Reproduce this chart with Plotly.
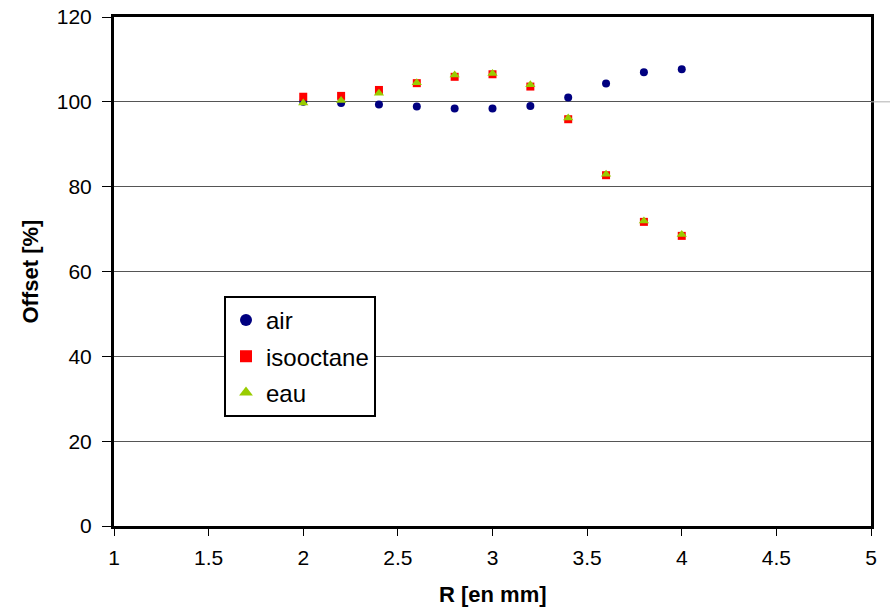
import plotly.graph_objects as go

r_mm = [2.0, 2.2, 2.4, 2.6, 2.8, 3.0, 3.2, 3.4, 3.6, 3.8, 4.0]
air = [100.0, 99.7, 99.4, 98.9, 98.4, 98.4, 99.0, 101.0, 104.3, 107.0, 107.7]
isooctane = [101.2, 101.4, 102.8, 104.4, 105.9, 106.5, 103.6, 95.9, 82.7, 71.7, 68.4]
eau = [99.7, 100.3, 102.0, 104.5, 106.3, 106.7, 104.0, 96.2, 82.9, 71.9, 68.7]

x_ticks = [1, 1.5, 2, 2.5, 3, 3.5, 4, 4.5, 5]
y_ticks = [0, 20, 40, 60, 80, 100, 120]
ref_level = 100
x_title = "R [en mm]"
y_title = "Offset [%]"

font_family = "Liberation Sans, Arial, sans-serif"

fig = go.Figure()
fig.add_trace(go.Scatter(x=r_mm, y=air, mode="markers", name="air", legendgroup="a",
                         marker=dict(symbol="circle", size=8, color="#000080")))
fig.add_trace(go.Scatter(x=r_mm, y=isooctane, mode="markers", name="isooctane", legendgroup="b",
                         marker=dict(symbol="square", size=8, color="#FF0000")))
fig.add_trace(go.Scatter(x=r_mm, y=eau, mode="markers", name="eau", legendgroup="c",
                         marker=dict(symbol="triangle-up", size=9, color="#99CC00")))

fig.add_shape(type="line", xref="paper", yref="y", x0=1, x1=1.03, y0=ref_level, y1=ref_level,
              line=dict(color="#b0b0b0", width=1))

fig.add_annotation(text=f"<b>{x_title}</b>", xref="paper", yref="paper", x=0.5, y=0,
                   yshift=-68, showarrow=False, font=dict(size=22), yanchor="middle")
fig.add_annotation(text=f"<b>{y_title}</b>", xref="paper", yref="paper", x=0, y=0.5,
                   xshift=-84, showarrow=False, font=dict(size=22), textangle=-90,
                   xanchor="center")

fig.update_layout(
    width=890, height=607,
    margin=dict(l=114, r=19, t=17, b=81),
    paper_bgcolor="white", plot_bgcolor="white",
    font=dict(family=font_family, size=21, color="black"),
    showlegend=True,
    legend=dict(x=0.1453, y=0.452, xanchor="left", yanchor="top",
                bgcolor="white", bordercolor="black", borderwidth=2,
                font=dict(size=24), itemsizing="constant",
                traceorder="grouped", tracegroupgap=2),
    xaxis=dict(range=[1, 5], tickvals=x_ticks, ticktext=[f"{v:g}" for v in x_ticks],
               showgrid=False, zeroline=False, automargin=False,
               showline=True, mirror=True, linecolor="black", linewidth=3,
               ticks="outside", ticklen=7, tickcolor="black", ticklabelstandoff=4,
               ticklabeloverflow="allow"),
    yaxis=dict(range=[0, 120], tickvals=y_ticks,
               showgrid=True, gridcolor="#555555", gridwidth=1, zeroline=False,
               automargin=False,
               showline=True, mirror=True, linecolor="black", linewidth=3,
               ticks="outside", ticklen=9, tickcolor="black", ticklabelstandoff=6,
               ticklabeloverflow="allow"),
)

fig.write_html("out.html", config={"displayModeBar": False},
               post_script="document.body.style.margin='0';document.body.style.overflow='hidden';")
